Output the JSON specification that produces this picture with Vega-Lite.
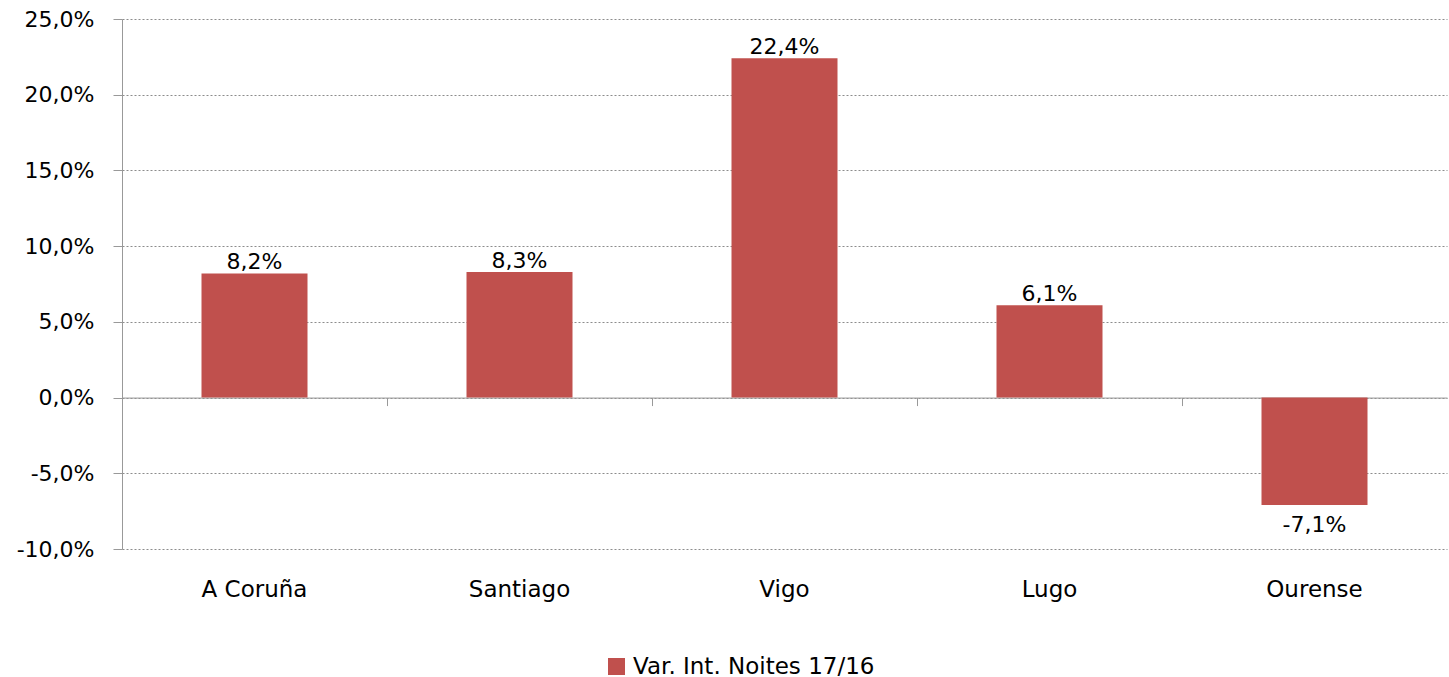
{
  "$schema": "https://vega.github.io/schema/vega-lite/v6.json",
  "width": 1325,
  "height": 530,
  "autosize": {"type": "none"},
  "padding": {"left": 122, "top": 19, "right": 2, "bottom": 128},
  "config": {
    "locale": {"number": {"decimal": ",", "thousands": ".", "grouping": [3], "currency": ["", " €"], "minus": "-"}},
    "view": {"stroke": null},
    "font": "DejaVu Sans"
  },
  "data": {
    "values": [
      {"ciudad": "A Coruña", "v": 0.082, "serie": "Var. Int. Noites 17/16"},
      {"ciudad": "Santiago", "v": 0.083, "serie": "Var. Int. Noites 17/16"},
      {"ciudad": "Vigo", "v": 0.224, "serie": "Var. Int. Noites 17/16"},
      {"ciudad": "Lugo", "v": 0.061, "serie": "Var. Int. Noites 17/16"},
      {"ciudad": "Ourense", "v": -0.071, "serie": "Var. Int. Noites 17/16"}
    ]
  },
  "encoding": {
    "y": {
      "field": "v",
      "type": "quantitative",
      "scale": {"domain": [-0.1, 0.25], "nice": false, "zero": false},
      "axis": {
        "title": null,
        "values": [-0.1, -0.05, 0, 0.05, 0.1, 0.15, 0.2, 0.25],
        "format": ".1%",
        "domainColor": "#999999",
        "tickColor": "#999999",
        "tickSize": 9,
        "labelPadding": 19,
        "labelFontSize": 22,
        "labelColor": "#000000",
        "grid": true,
        "gridColor": "#8c8c8c",
        "gridDash": [2, 2]
      }
    }
  },
  "resolve": {"axis": {"x": "independent"}},
  "layer": [
    {
      "mark": {"type": "bar"},
      "encoding": {
        "x": {
          "field": "ciudad",
          "type": "nominal",
          "sort": null,
          "scale": {"paddingInner": 0.6, "paddingOuter": 0.3},
          "axis": {
            "orient": "bottom",
            "title": null,
            "offset": -151.43,
            "domainColor": "#999999",
            "tickColor": "#999999",
            "tickSize": 8,
            "tickOffset": -132.5,
            "labels": false,
            "grid": false
          }
        },
        "color": {
          "field": "serie",
          "type": "nominal",
          "scale": {"range": ["#C0504D"]},
          "legend": {
            "orient": "none",
            "legendX": 483,
            "legendY": 636,
            "title": null,
            "symbolType": "square",
            "symbolSize": 289,
            "symbolStrokeWidth": 0,
            "labelFontSize": 23,
            "labelColor": "#000000",
            "labelOffset": 5,
            "labelLimit": 500,
            "padding": 0
          }
        }
      }
    },
    {
      "transform": [{"filter": "datum.v >= 0"}],
      "mark": {"type": "text", "dy": -4, "fontSize": 22, "baseline": "alphabetic", "color": "#000000"},
      "encoding": {
        "x": {
          "field": "ciudad",
          "type": "nominal",
          "sort": null,
          "axis": {
            "orient": "bottom",
            "title": null,
            "domain": false,
            "ticks": false,
            "labelFontSize": 23,
            "labelColor": "#000000",
            "labelPadding": 47,
            "labelBaseline": "alphabetic",
            "labelAngle": 0,
            "grid": false
          }
        },
        "text": {"field": "v", "type": "quantitative", "format": ".1%"}
      }
    },
    {
      "transform": [{"filter": "datum.v < 0"}],
      "mark": {"type": "text", "dy": 27, "fontSize": 22, "baseline": "alphabetic", "color": "#000000"},
      "encoding": {
        "x": {"field": "ciudad", "type": "nominal", "sort": null, "axis": null},
        "text": {"field": "v", "type": "quantitative", "format": ".1%"}
      }
    }
  ]
}
